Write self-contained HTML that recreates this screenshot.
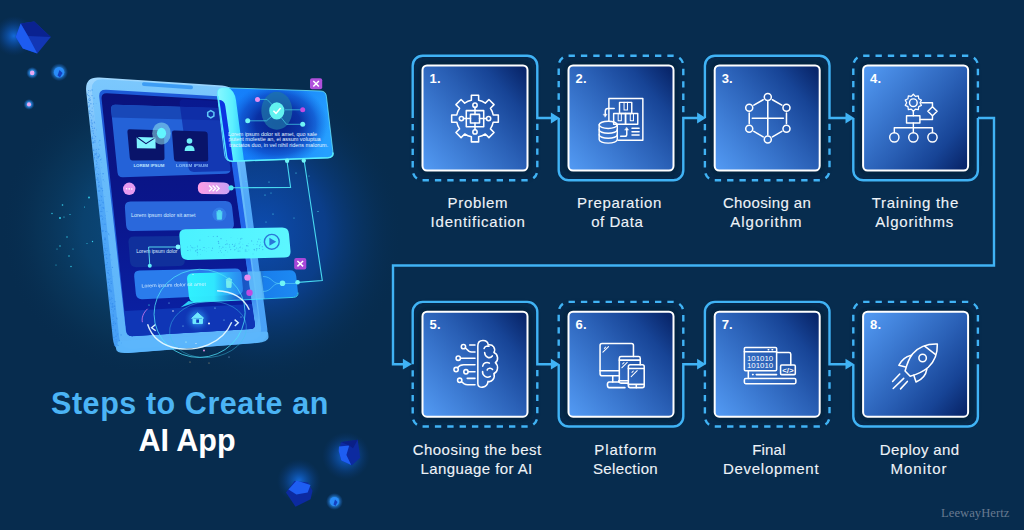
<!DOCTYPE html>
<html lang="en">
<head>
<meta charset="utf-8">
<title>Steps to Create an AI App</title>
<style>
html,body{margin:0;padding:0;}
body{width:1024px;height:530px;overflow:hidden;background:#072c4e;font-family:"Liberation Sans",sans-serif;position:relative;}
#stage{position:absolute;left:0;top:0;width:1024px;height:530px;overflow:hidden;background:#072c4e;}
svg{position:absolute;left:0;top:0;}
.title{position:absolute;font-weight:bold;font-size:30.5px;line-height:36px;white-space:nowrap;margin:0;}
.t1{left:51px;top:384.7px;color:#4bb4f5;letter-spacing:0.56px;}
.t2{left:138.5px;top:421.6px;color:#ffffff;letter-spacing:0px;}
.num{position:absolute;color:#fff;font-weight:bold;font-size:13px;line-height:16px;letter-spacing:0.2px;}
.lbl{position:absolute;color:#eef3f8;font-size:15px;line-height:19px;white-space:nowrap;-webkit-text-stroke:0.12px #eef3f8;}
.brand{position:absolute;left:941px;top:505.5px;font-family:"Liberation Serif",serif;font-size:12.6px;line-height:15px;color:#687a90;letter-spacing:0.05px;white-space:nowrap;}
</style>
</head>
<body>
<div id="stage">
<svg id="illus" width="520" height="530" viewBox="0 0 520 530">
<defs>
<radialGradient id="bgglow" cx="262" cy="232" r="142" gradientUnits="userSpaceOnUse" gradientTransform="translate(262 232) scale(1 1.08) translate(-262 -232)"><stop offset="0" stop-color="#0d4cb0" stop-opacity="1"/><stop offset="0.45" stop-color="#0c439a" stop-opacity="0.78"/><stop offset="0.75" stop-color="#093a74" stop-opacity="0.36"/><stop offset="1" stop-color="#072c4e" stop-opacity="0"/></radialGradient>
<radialGradient id="bgglow2" cx="150" cy="228" r="150" gradientUnits="userSpaceOnUse"><stop offset="0" stop-color="#0c4e88" stop-opacity="0.95"/><stop offset="0.45" stop-color="#0b4878" stop-opacity="0.75"/><stop offset="0.75" stop-color="#0a3c62" stop-opacity="0.4"/><stop offset="1" stop-color="#072c4e" stop-opacity="0"/></radialGradient>
<radialGradient id="glowb" cx="0.5" cy="0.5" r="0.5"><stop offset="0" stop-color="#1470e8" stop-opacity="0.9"/><stop offset="0.5" stop-color="#0e58c0" stop-opacity="0.45"/><stop offset="1" stop-color="#0a3a80" stop-opacity="0"/></radialGradient>
<radialGradient id="glowc" cx="0.5" cy="0.5" r="0.5"><stop offset="0" stop-color="#38b8ff" stop-opacity="1"/><stop offset="0.55" stop-color="#2a90f0" stop-opacity="0.7"/><stop offset="1" stop-color="#1a60c0" stop-opacity="0"/></radialGradient>
<linearGradient id="body" x1="0" y1="78" x2="0" y2="350" gradientUnits="userSpaceOnUse"><stop offset="0" stop-color="#7cc8fd"/><stop offset="0.3" stop-color="#68bcfb"/><stop offset="1" stop-color="#5cb4fa"/></linearGradient>
<linearGradient id="side" x1="0" y1="78" x2="0" y2="350" gradientUnits="userSpaceOnUse"><stop offset="0" stop-color="#a0d8fe"/><stop offset="0.2" stop-color="#72befb"/><stop offset="0.45" stop-color="#50a8f8"/><stop offset="1" stop-color="#48a0f6"/></linearGradient>
<linearGradient id="screen" x1="0" y1="95" x2="0" y2="335" gradientUnits="userSpaceOnUse"><stop offset="0" stop-color="#0a127c"/><stop offset="0.5" stop-color="#0a168c"/><stop offset="1" stop-color="#0a22a6"/></linearGradient>
<linearGradient id="glass" x1="216" y1="90" x2="334" y2="120" gradientUnits="userSpaceOnUse"><stop offset="0" stop-color="#1682fc"/><stop offset="0.5" stop-color="#147cf8"/><stop offset="1" stop-color="#26a0ff"/></linearGradient>
<radialGradient id="glassdark" cx="278" cy="124" r="50" gradientUnits="userSpaceOnUse" gradientTransform="translate(278 124) scale(1 0.82) translate(-278 -124)"><stop offset="0" stop-color="#061c86" stop-opacity="0.97"/><stop offset="0.45" stop-color="#08289a" stop-opacity="0.9"/><stop offset="0.75" stop-color="#0c40bc" stop-opacity="0.6"/><stop offset="1" stop-color="#1060d8" stop-opacity="0"/></radialGradient>
<linearGradient id="thru" x1="216" y1="0" x2="246" y2="0" gradientUnits="userSpaceOnUse"><stop offset="0" stop-color="#8cf8ff"/><stop offset="0.55" stop-color="#5cf0ff"/><stop offset="1" stop-color="#2cc8ff"/></linearGradient>
<linearGradient id="rbez" x1="0" y1="160" x2="0" y2="320" gradientUnits="userSpaceOnUse"><stop offset="0" stop-color="#2064e8"/><stop offset="0.6" stop-color="#2468ea"/><stop offset="0.85" stop-color="#3c8cf2"/><stop offset="1" stop-color="#58aef8"/></linearGradient>
<linearGradient id="cy1" x1="178" y1="0" x2="291" y2="0" gradientUnits="userSpaceOnUse"><stop offset="0" stop-color="#4af2ff"/><stop offset="1" stop-color="#5cf6ff"/></linearGradient>
<linearGradient id="cy2" x1="186" y1="0" x2="298" y2="0" gradientUnits="userSpaceOnUse"><stop offset="0" stop-color="#30f4ff" stop-opacity="0.98"/><stop offset="0.25" stop-color="#30eaff" stop-opacity="0.97"/><stop offset="0.36" stop-color="#2cc4fc" stop-opacity="0.75"/><stop offset="0.5" stop-color="#2a98f4" stop-opacity="0.45"/><stop offset="0.66" stop-color="#2a90f2" stop-opacity="0.6"/><stop offset="0.7" stop-color="#1a84f4" stop-opacity="0.92"/><stop offset="1" stop-color="#1e8ef8" stop-opacity="0.95"/></linearGradient>
<linearGradient id="pill" x1="0" y1="0" x2="1" y2="0"><stop offset="0" stop-color="#ff9ee6"/><stop offset="1" stop-color="#c9a0f4"/></linearGradient>
<filter id="b1" x="-50%" y="-50%" width="200%" height="200%"><feGaussianBlur stdDeviation="1"/></filter>
<filter id="b2" x="-50%" y="-50%" width="200%" height="200%"><feGaussianBlur stdDeviation="2.2"/></filter>
<filter id="b05" x="-50%" y="-50%" width="200%" height="200%"><feGaussianBlur stdDeviation="0.5"/></filter>
</defs>
<rect x="0" y="0" width="520" height="530" fill="url(#bgglow2)"/><rect x="0" y="0" width="520" height="530" fill="url(#bgglow)"/>
<circle cx="14" cy="36" r="20" fill="url(#glowb)"/>
<path d="M15.6,37 L20.7,23.5 L34.2,21.4 L50.8,37 L37.3,53.6 L22.8,48.4 Z" fill="#1236b4"/>
<path d="M20.7,23.5 L34.2,21.4 L50.8,37 L28,36 Z" fill="#0a2290"/>
<path d="M15.6,37 L20.7,23.5 L28,36 L37.3,53.6 L22.8,48.4 Z" fill="#1d5cf0"/>
<circle cx="32.2" cy="72.9" r="6" fill="url(#glowc)"/><circle cx="32.2" cy="72.9" r="2.3" fill="#e9a8f2"/>
<circle cx="59.1" cy="72.2" r="9" fill="url(#glowc)"/><circle cx="59.1" cy="72.2" r="5.2" fill="#2a8cf8"/><path d="M59.5,70 L62.5,73 L60,77.5 L57.5,75.5 Z" fill="#1440c0"/>
<circle cx="29" cy="104.4" r="5.5" fill="url(#glowc)"/><circle cx="29" cy="104.4" r="2.1" fill="#e9a8f2"/>
<circle cx="346" cy="456" r="24" fill="url(#glowb)"/>
<path d="M340.8,442.6 L357.7,439.8 L360.2,457.7 L352,465.3 L341.3,460.6 L338.9,451.1 Z" fill="#0c2aa0"/>
<path d="M339,446.5 L349.2,445.5 L346.4,455 L351.2,465 L341.3,460.6 L338.7,451 Z" fill="#1e5ef2"/>
<path d="M340.8,442 L357.7,439.8 L353,448.3 L349.2,445.5 Z" fill="#0a1f86"/>
<circle cx="299" cy="481" r="22" fill="url(#glowb)"/>
<path d="M286,492.6 L294.5,481 L308,482.5 L312.5,490.8 L310.6,499.2 L295.5,506.8 Z" fill="#0c2aa0"/>
<path d="M288.5,489.5 L296.5,480.4 L310.5,485 L307.7,492.6 L296.4,494.5 Z" fill="#1e5ef2"/>
<circle cx="334.5" cy="501.5" r="8.5" fill="url(#glowc)"/><circle cx="334.5" cy="501.5" r="4.6" fill="#2a8cf8"/><path d="M335,499.5 L337.5,502 L335.5,506 L333.5,504.5 Z" fill="#1440c0"/>
<path d="M86.2,91.5 Q84.6,76.6 99.6,77.6 L222.0,85.6 Q235.0,86.4 236.7,99.3 L267.2,328.1 Q269.0,342.0 255.0,343.1 L129.5,352.8 Q114.5,354.0 112.9,339.1 Z" fill="url(#side)"/>
<path d="M91.9,91.3 Q90.5,78.4 103.5,79.3 L217.5,86.8 Q229.5,87.6 231.1,99.5 L260.9,327.1 Q262.5,339.0 250.5,339.9 L133.5,348.5 Q120.5,349.5 119.1,336.6 Z" fill="url(#body)"/>
<path d="M117.5,342.9 Q118.0,341.0 120.0,340.9 L266.0,331.6 Q268.0,331.5 268.2,333.5 L268.5,336.8 Q269.0,342.0 257.0,342.9 L128.5,352.9 Q114.5,354.0 116.2,347.5 Z" fill="#5cb6fc" opacity="0.95"/>
<path d="M142.0,84.1 Q142.0,82.2 144.0,82.3 L191.0,85.5 Q193.0,85.6 193.0,87.5 L193.0,87.5 Q193.0,89.4 191.0,89.3 L144.0,86.1 Q142.0,86.0 142.0,84.1 Z" fill="#3d9cf4"/>
<path d="M99.3,97.2 Q98.4,89.3 106.4,89.8 L218.0,96.3 Q224.0,96.6 224.8,102.5 L254.8,323.8 Q255.5,328.8 250.5,329.1 L132.6,336.2 Q126.6,336.6 125.9,330.6 Z" fill="#1d5ad8"/>
<path d="M101.6,99.0 Q101.0,93.0 107.0,93.3 L218.5,99.7 Q223.5,100.0 224.2,105.0 L254.8,323.8 Q255.5,328.8 250.5,329.1 L133.0,336.1 Q127.0,336.5 126.4,330.5 Z" fill="url(#screen)"/>
<path d="M124.6,312.0 Q124.5,311.0 125.5,310.9 L251.3,304.1 Q252.3,304.0 252.4,305.0 L254.9,323.8 Q255.5,328.8 250.5,329.1 L133.0,336.1 Q127.0,336.5 126.4,330.5 Z" fill="#1038b8" opacity="0.9"/>
<path d="M231.2,160.0 L236.6,160.0 L258.6,318.0 L256.5,326.0 L254.6,320.0 Z" fill="url(#rbez)"/>
<path d="M111.1,109.5 Q110.6,104.5 115.6,104.7 L217.5,108.1 Q222.5,108.3 223.1,113.3 L230.4,168.5 Q231.0,173.5 226.0,173.7 L123.0,177.3 Q118.0,177.5 117.5,172.5 Z" fill="#2462d8"/>
<path d="M111.2,109.5 Q110.6,104.5 115.6,104.7 L217.5,108.1 Q222.5,108.3 223.2,113.3 L224.1,120.0 Q224.2,120.5 223.7,120.5 L112.7,117.5 Q112.2,117.5 112.1,117.0 Z" fill="#1848b8"/>
<path d="M179.7,104.0 Q179.0,99.0 184.0,99.2 L220.6,100.9 Q223.6,101.0 224.0,104.0 L232.1,168.0 Q232.5,171.0 229.5,171.1 L194.0,171.9 Q189.0,172.0 188.3,167.0 Z" fill="#0a1e9c" opacity="0.62"/>
<path d="M127.4,131.7 Q127.2,129.2 129.7,129.3 L161.5,130.3 Q164.0,130.4 164.1,132.9 L164.5,157.7 Q164.6,160.2 162.1,160.2 L132.5,160.5 Q130.0,160.5 129.8,158.0 Z" fill="#09146a"/>
<path d="M172.0,132.8 Q171.8,130.3 174.3,130.4 L205.1,131.4 Q207.6,131.5 207.7,134.0 L208.2,159.0 Q208.3,161.5 205.8,161.5 L176.7,161.4 Q174.2,161.4 174.0,158.9 Z" fill="#09146a"/>
<path d="M136.6,137 L155.4,137.6 L155.7,148.6 L136.9,148.2 Z" fill="#7ff2ff"/>
<path d="M136.6,137 L146,143.6 L155.4,137.6" fill="none" stroke="#09146a" stroke-width="1.1"/>
<circle cx="189.5" cy="141" r="2.8" fill="#6ff0f8"/><path d="M184.6,151 Q184.6,145.6 189.6,145.6 Q194.6,145.6 194.6,151 Z" fill="#6ff0f8"/>
<ellipse cx="161.5" cy="133.4" rx="9.3" ry="11" fill="#8fe4ee" opacity="0.55"/><ellipse cx="161.5" cy="133.2" rx="4.6" ry="5.4" fill="#62f6ff"/>
<path d="M210.8,110.6 L213.9,112.4 L213.9,116 L210.8,117.8 L207.7,116 L207.7,112.4 Z" fill="none" stroke="#5fc8f8" stroke-width="1.5"/>
<text x="133.4" y="167.3" font-family="'Liberation Sans',sans-serif" font-weight="bold" font-size="4.1" fill="#bfe6ff" textLength="31" lengthAdjust="spacingAndGlyphs">LOREM IPSUM</text>
<text x="176" y="167.2" font-family="'Liberation Sans',sans-serif" font-weight="bold" font-size="4.1" fill="#9fd0ff" opacity="0.85" textLength="32" lengthAdjust="spacingAndGlyphs">LOREM IPSUM</text>
<circle cx="129.2" cy="188.8" r="6.2" fill="#e79af0"/>
<circle cx="126.6" cy="188.8" r="0.8" fill="#fff"/><circle cx="129.2" cy="188.9" r="0.8" fill="#fff"/><circle cx="131.8" cy="189" r="0.8" fill="#fff"/>
<path d="M197.8,188.0 Q197.7,182.0 203.7,182.1 L223.8,182.5 Q229.8,182.6 229.9,188.5 L229.9,188.5 Q230.0,194.4 224.0,194.3 L203.9,194.1 Q197.9,194.0 197.8,188.0 Z" fill="url(#pill)"/>
<path d="M209,185.6 L212,188.4 L209,191.2 M212.6,185.6 L215.6,188.4 L212.6,191.2 M216.2,185.6 L219.2,188.4 L216.2,191.2" fill="none" stroke="#fff" stroke-width="1.3"/>
<path d="M124.9,207.6 Q124.5,201.6 130.5,201.6 L225.5,201.0 Q231.5,201.0 232.1,207.0 L233.9,223.5 Q234.5,229.5 228.5,229.6 L132.5,231.1 Q126.5,231.2 126.1,225.2 Z" fill="#2a68dc"/>
<text x="131" y="217.4" font-family="'Liberation Sans',sans-serif" font-size="4.6" fill="#d8ecff" textLength="64.5" lengthAdjust="spacingAndGlyphs">Lorem ipsum dolor sit amet</text>
<circle cx="219.4" cy="214.6" r="7" fill="#3a8cf0" opacity="0.55"/>
<path d="M216.3,211.8 H222.5 M218.2,211.8 V210.4 H220.6 V211.8 M216.9,212.6 L217.3,219.2 H221.5 L221.9,212.6 Z" fill="#52d8f4" stroke="#52d8f4" stroke-width="0.9" stroke-linejoin="round"/>
<path d="M128.5,242.5 Q128.0,236.5 134.0,236.4 L178.0,236.1 Q184.0,236.0 184.2,242.0 L184.8,260.0 Q185.0,266.0 179.0,266.1 L136.5,267.2 Q130.5,267.3 130.0,261.3 Z" fill="#10309c"/>
<text x="136.3" y="253.4" font-family="'Liberation Sans',sans-serif" font-size="4.6" fill="#d8ecff" textLength="41" lengthAdjust="spacingAndGlyphs">Lorem ipsum dolor</text>
<path d="M177.8,247 H148.6 L149.8,265.6" fill="none" stroke="#5feaf8" stroke-width="0.9"/><circle cx="149.8" cy="265.8" r="2" fill="#5feaf8"/>
<path d="M134.2,276.6 Q133.6,270.6 139.6,270.5 L235.0,268.5 Q241.0,268.4 241.6,274.4 L242.9,288.5 Q243.5,294.5 237.5,294.8 L142.4,299.3 Q136.4,299.6 135.8,293.6 Z" fill="#2a7cec"/>
<path d="M233.0,96.0 L239.5,94.0 L268.5,333.0 L258.0,329.0 Z" fill="#7cc2fa" opacity="0.0"/>
<path d="M287,161 L290.6,187.4 L231.5,187.8" fill="none" stroke="#48d8f0" stroke-width="1.1"/>
<path d="M304.2,161 L322.3,280.6 L298,282.4" fill="none" stroke="#48d8f0" stroke-width="1.1"/>
<circle cx="231" cy="187.8" r="2.6" fill="#4fe6f2"/>
<path d="M187.1,279.5 Q186.5,273.5 192.5,273.3 L289.5,270.2 Q295.5,270.0 296.2,276.0 L297.8,291.0 Q298.5,297.0 292.5,297.3 L195.5,302.2 Q189.5,302.5 188.9,296.5 Z" fill="url(#cy2)"/>
<path d="M188.5,301 L180.5,307.5 L196,302.2 Z" fill="#2fe0ff" opacity="0.9"/>
<path d="M193,302.4 L293.5,297.4 Q298.3,297 298,292.5" fill="none" stroke="#3fe8ff" stroke-width="0.9" opacity="0.9"/>
<path d="M247.6,271.6 L260.6,271.2 L264.6,298.8 L251.6,299.4 Z" fill="#7fd8ff" opacity="0.55"/>
<path d="M225.8,279.6 H232 M227.7,279.6 V278.2 H230.1 V279.6 M226.4,280.4 L226.8,287.4 H231 L231.4,280.4 Z" fill="#7ff4ee" stroke="#7ff4ee" stroke-width="0.9" stroke-linejoin="round" opacity="0.9"/>
<path d="M263,276.5 C272,276.5 272,283.5 279,283.5 M263,291.5 C272,291.5 272,283.5 279,283.5 M279,283.5 H297" fill="none" stroke="#5fd8f8" stroke-width="0.7" opacity="0.8"/>
<circle cx="282.5" cy="283.3" r="2.8" fill="#6ff4f6"/><circle cx="297.6" cy="282.2" r="2.3" fill="#6ff4f6"/>
<circle cx="247.5" cy="277.6" r="3.2" fill="#e88cf0"/><circle cx="249.5" cy="292.8" r="3.2" fill="#c04ce0"/>
<text x="141.5" y="287.4" font-family="'Liberation Sans',sans-serif" font-size="4.6" fill="#e6f6ff" opacity="0.9" textLength="64.5" lengthAdjust="spacingAndGlyphs" transform="rotate(-1.6 141.5 287.4)">Lorem ipsum dolor sit amet</text>
<path d="M179.4,235.9 Q178.8,229.4 185.3,229.3 L282.0,227.6 Q288.5,227.5 289.0,234.0 L290.5,251.0 Q291.0,257.5 284.5,257.6 L188.0,259.9 Q181.5,260.0 180.9,253.5 Z" fill="url(#cy1)"/>
<circle cx="178" cy="247" r="2.4" fill="#7ff8ff"/>
<circle cx="271.8" cy="241.8" r="7.4" fill="none" stroke="#2a78d8" stroke-width="1.4"/><path d="M269.4,237.8 L276.2,241.8 L269.4,245.8 Z" fill="#2a78d8"/>
<g fill="#2a8ce0" opacity="0.55"><circle cx="211.3" cy="250.6" r="0.33"/><circle cx="227.8" cy="251.9" r="0.45"/><circle cx="190.5" cy="245.8" r="0.47"/><circle cx="191.4" cy="246.9" r="0.34"/><circle cx="219.1" cy="248.0" r="0.39"/><circle cx="234.9" cy="245.1" r="0.68"/><circle cx="231.0" cy="237.8" r="0.32"/><circle cx="253.0" cy="253.9" r="0.42"/><circle cx="197.3" cy="249.7" r="0.63"/><circle cx="200.1" cy="249.4" r="0.53"/><circle cx="235.8" cy="243.3" r="0.33"/><circle cx="190.6" cy="250.8" r="0.38"/><circle cx="239.1" cy="243.7" r="0.53"/><circle cx="221.3" cy="248.6" r="0.42"/><circle cx="248.0" cy="246.0" r="0.53"/><circle cx="227.0" cy="244.0" r="0.65"/><circle cx="242.9" cy="244.2" r="0.35"/><circle cx="245.1" cy="249.8" r="0.32"/><circle cx="238.1" cy="251.0" r="0.61"/><circle cx="230.7" cy="249.6" r="0.58"/><circle cx="232.4" cy="244.4" r="0.53"/><circle cx="221.6" cy="252.4" r="0.49"/><circle cx="237.8" cy="238.5" r="0.32"/><circle cx="240.7" cy="239.0" r="0.63"/><circle cx="208.2" cy="236.4" r="0.45"/><circle cx="238.2" cy="251.6" r="0.37"/><circle cx="195.1" cy="247.7" r="0.32"/><circle cx="245.9" cy="249.2" r="0.46"/><circle cx="254.0" cy="249.3" r="0.33"/><circle cx="221.0" cy="238.7" r="0.63"/><circle cx="253.4" cy="244.3" r="0.41"/><circle cx="218.4" cy="241.5" r="0.68"/><circle cx="197.8" cy="253.8" r="0.37"/><circle cx="204.1" cy="247.5" r="0.54"/><circle cx="206.5" cy="251.8" r="0.30"/><circle cx="218.7" cy="243.3" r="0.68"/><circle cx="239.9" cy="251.0" r="0.51"/><circle cx="234.2" cy="246.4" r="0.66"/><circle cx="246.8" cy="245.7" r="0.65"/><circle cx="248.2" cy="243.7" r="0.34"/><circle cx="235.5" cy="249.7" r="0.32"/><circle cx="191.3" cy="247.6" r="0.44"/><circle cx="190.1" cy="249.4" r="0.30"/><circle cx="197.8" cy="250.2" r="0.31"/><circle cx="254.2" cy="249.4" r="0.55"/><circle cx="197.6" cy="246.9" r="0.45"/><circle cx="195.6" cy="250.9" r="0.64"/><circle cx="263.5" cy="242.3" r="0.33"/><circle cx="194.0" cy="248.0" r="0.44"/><circle cx="206.7" cy="248.2" r="0.31"/><circle cx="260.2" cy="244.8" r="0.51"/><circle cx="197.4" cy="246.1" r="0.51"/><circle cx="262.3" cy="246.7" r="0.65"/><circle cx="240.3" cy="246.7" r="0.37"/><circle cx="246.2" cy="251.0" r="0.51"/><circle cx="246.8" cy="245.6" r="0.62"/><circle cx="262.8" cy="249.6" r="0.64"/><circle cx="248.9" cy="249.9" r="0.39"/><circle cx="226.4" cy="240.7" r="0.44"/><circle cx="188.3" cy="250.3" r="0.40"/><circle cx="240.0" cy="247.6" r="0.68"/><circle cx="260.5" cy="242.2" r="0.45"/><circle cx="203.2" cy="247.4" r="0.38"/><circle cx="234.7" cy="249.8" r="0.66"/><circle cx="251.6" cy="240.9" r="0.62"/><circle cx="192.6" cy="247.8" r="0.56"/><circle cx="257.0" cy="248.4" r="0.49"/><circle cx="199.9" cy="240.1" r="0.62"/><circle cx="211.9" cy="250.5" r="0.46"/><circle cx="217.3" cy="236.4" r="0.68"/><circle cx="242.5" cy="248.1" r="0.36"/><circle cx="256.6" cy="248.9" r="0.62"/><circle cx="197.4" cy="252.4" r="0.56"/><circle cx="213.3" cy="236.6" r="0.52"/><circle cx="236.7" cy="248.0" r="0.51"/><circle cx="258.8" cy="239.2" r="0.63"/><circle cx="202.5" cy="250.4" r="0.40"/><circle cx="208.9" cy="247.3" r="0.40"/><circle cx="218.7" cy="252.6" r="0.35"/><circle cx="257.0" cy="244.2" r="0.53"/><circle cx="256.5" cy="250.7" r="0.47"/><circle cx="257.6" cy="241.8" r="0.51"/><circle cx="187.5" cy="246.9" r="0.48"/><circle cx="200.3" cy="254.5" r="0.37"/><circle cx="222.9" cy="247.2" r="0.59"/><circle cx="229.4" cy="244.7" r="0.52"/><circle cx="247.2" cy="251.5" r="0.34"/><circle cx="229.7" cy="247.0" r="0.61"/><circle cx="225.6" cy="250.4" r="0.52"/><circle cx="245.3" cy="250.9" r="0.55"/><circle cx="225.4" cy="244.6" r="0.50"/><circle cx="240.0" cy="242.0" r="0.49"/><circle cx="259.4" cy="248.5" r="0.58"/><circle cx="254.4" cy="250.0" r="0.52"/><circle cx="259.6" cy="245.8" r="0.64"/><circle cx="196.7" cy="250.3" r="0.33"/><circle cx="204.8" cy="250.1" r="0.33"/><circle cx="238.2" cy="248.9" r="0.36"/><circle cx="241.9" cy="238.2" r="0.56"/><circle cx="197.2" cy="255.1" r="0.39"/><circle cx="260.3" cy="239.6" r="0.46"/><circle cx="224.0" cy="254.9" r="0.36"/><circle cx="219.7" cy="246.5" r="0.51"/><circle cx="212.5" cy="248.2" r="0.59"/><circle cx="187.5" cy="250.5" r="0.52"/><circle cx="220.4" cy="250.7" r="0.55"/><circle cx="226.0" cy="247.4" r="0.33"/></g>
<path d="M294.2,260.0 Q294.2,258.0 296.2,258.0 L304.3,258.0 Q306.3,258.0 306.3,260.0 L306.3,267.4 Q306.3,269.4 304.3,269.4 L296.2,269.4 Q294.2,269.4 294.2,267.4 Z" fill="#a848d8"/>
<path d="M297.4,261 L303.1,266.4 M303.1,261 L297.4,266.4" stroke="#fff" stroke-width="1.5" fill="none"/>
<path d="M217.4,94.5 Q216.6,87.5 223.6,87.7 L320.8,91.0 Q325.8,91.2 326.4,96.2 L332.9,151.6 Q333.6,157.6 327.6,157.8 L232.4,161.3 Q225.4,161.6 224.6,154.6 Z" fill="url(#glass)"/>
<path d="M217.4,94.5 Q216.6,87.5 223.6,87.7 L320.8,91.0 Q325.8,91.2 326.4,96.2 L332.9,151.6 Q333.6,157.6 327.6,157.8 L232.4,161.3 Q225.4,161.6 224.6,154.6 Z" fill="url(#glassdark)"/>
<clipPath id="gclip"><path d="M217.4,94.5 Q216.6,87.5 223.6,87.7 L320.8,91.0 Q325.8,91.2 326.4,96.2 L332.9,151.6 Q333.6,157.6 327.6,157.8 L232.4,161.3 Q225.4,161.6 224.6,154.6 Z"/></clipPath>
<g clip-path="url(#gclip)">
<path d="M86.2,91.5 Q84.6,76.6 99.6,77.6 L220.2,85.5 Q234.2,86.4 236.0,100.3 L265.9,327.1 Q267.7,341.0 253.8,342.2 L129.4,352.7 Q114.5,354.0 112.9,339.1 Z" fill="url(#thru)"/>
<path d="M101.6,99.0 Q101.0,93.0 107.0,93.3 L218.5,99.7 Q224.5,100.0 225.3,105.9 L255.8,322.0 Q256.5,327.0 251.5,327.4 L133.0,336.1 Q127.0,336.5 126.4,330.5 Z" fill="#0c34e2"/>
</g>
<path d="M217.4,94.5 Q216.6,87.5 223.6,87.7 L320.8,91.0 Q325.8,91.2 326.4,96.2 L332.9,151.6 Q333.6,157.6 327.6,157.8 L232.4,161.3 Q225.4,161.6 224.6,154.6 Z" fill="none" stroke="#6ff0ff" stroke-width="0.9" opacity="0.8"/>
<path d="M218,96 L226.6,156.5 Q227.4,161.4 232.5,161.2 L328,157.8 Q333.6,157.4 333,152.5" fill="none" stroke="#58f0ff" stroke-width="1.5" opacity="0.95"/>
<ellipse cx="276.8" cy="110.8" rx="15.5" ry="19" fill="#1f74a8" opacity="0.75"/>
<path d="M257.5,99.4 H267 L272,104.5 M302.7,109.8 H285 M247.7,120.8 H266.5 L271.5,116.5 M302.7,124.3 H286.5 L281.5,118" fill="none" stroke="#3fc0e0" stroke-width="0.8"/>
<ellipse cx="276.8" cy="110.8" rx="7.6" ry="8.6" fill="#62f2f0"/>
<path d="M273.4,110.8 L276,113.4 L280.6,108" fill="none" stroke="#fff" stroke-width="1.5"/>
<circle cx="257.5" cy="99.4" r="2.5" fill="#e88cf0"/><circle cx="302.7" cy="109.8" r="2.5" fill="#c04ce0"/><circle cx="247.7" cy="120.8" r="2.5" fill="#6ff4f6"/><circle cx="302.7" cy="124.3" r="2.5" fill="#6ff4f6"/>
<text x="228" y="135.6" font-family="'Liberation Sans',sans-serif" font-size="4.6" fill="#e4f4ff" textLength="89" lengthAdjust="spacingAndGlyphs">Lorem ipsum dolor sit amet, quo sale</text>
<text x="228.6" y="141.2" font-family="'Liberation Sans',sans-serif" font-size="4.6" fill="#e4f4ff" textLength="92" lengthAdjust="spacingAndGlyphs">putent molestie an, ei assum voluptua</text>
<text x="229.2" y="146.6" font-family="'Liberation Sans',sans-serif" font-size="4.6" fill="#e4f4ff" textLength="99" lengthAdjust="spacingAndGlyphs">tractatos duo, in vel nihil ridens malorum.</text>
<circle cx="287.1" cy="160.8" r="2.2" fill="#6ff4f6"/><circle cx="303.8" cy="160.6" r="2.2" fill="#6ff4f6"/>
<path d="M310.0,80.3 Q310.0,78.3 312.0,78.3 L320.2,78.3 Q322.2,78.3 322.2,80.3 L322.2,87.2 Q322.2,89.2 320.2,89.2 L312.0,89.2 Q310.0,89.2 310.0,87.2 Z" fill="#b050dc"/>
<path d="M313.3,81 L318.9,86.5 M318.9,81 L313.3,86.5" stroke="#fff" stroke-width="1.5" fill="none"/>
<circle cx="197.5" cy="319" r="13" fill="url(#glowc)" opacity="0.6"/>
<path d="M191.5,318.5 L197.6,312.8 L203.8,318.3 M193,317.8 V323.6 H202.4 V317.4 Z" fill="#6fe8ff" stroke="#6fe8ff" stroke-width="1" stroke-linejoin="round"/><rect x="196.2" y="319.4" width="2.8" height="3.4" fill="#1040c0"/>
<path d="M155.5,324.5 L151.6,327.8 L155.7,330.8" fill="none" stroke="#d8f0ff" stroke-width="1.4"/>
<path d="M234.6,319.6 L238.3,322.8 L234.8,326" fill="none" stroke="#d8f0ff" stroke-width="1.4"/>
<ellipse cx="199.5" cy="313.5" rx="45.6" ry="44" fill="none" stroke="#4fe0f8" stroke-width="0.9" opacity="0.8" transform="rotate(-12 199 313)"/>
<ellipse cx="208" cy="329.5" rx="38.5" ry="28" fill="none" stroke="#3fc8ec" stroke-width="0.7" opacity="0.6" transform="rotate(-6 208 329.5)"/>
<path d="M147.6,324.3 C152,338 163,346 178,348.5 C196,351 222,345 231.7,322.2" fill="none" stroke="#e8fbff" stroke-width="1.4" opacity="0.92"/>
<path d="M217.1,290.7 C232,291 244,298 249.3,309.8" fill="none" stroke="#e8fbff" stroke-width="1.4" opacity="0.92"/>
<path d="M147.6,308.8 C143,313 141.5,318 142.4,322.2" fill="none" stroke="#e080f0" stroke-width="0.9" opacity="0.85"/>
<g><circle cx="173" cy="311" r="0.7" fill="#fff"/><circle cx="209" cy="323.5" r="1" fill="#fff"/><circle cx="186" cy="342" r="0.6" fill="#cfe"/><circle cx="204" cy="350.5" r="0.9" fill="#f49af0"/><circle cx="196" cy="343.5" r="0.5" fill="#fff"/><circle cx="215" cy="308" r="0.6" fill="#9ef"/><circle cx="224" cy="320" r="0.5" fill="#9ef"/><circle cx="183" cy="326" r="0.5" fill="#9ef"/><circle cx="169" cy="303" r="0.5" fill="#9ef"/><circle cx="241" cy="317" r="0.5" fill="#9ef"/><circle cx="149" cy="305" r="0.6" fill="#5fe"/><circle cx="190" cy="362" r="0.5" fill="#cb8"/><circle cx="209" cy="363" r="0.5" fill="#cb8"/><circle cx="229" cy="357" r="0.5" fill="#9cf"/><circle cx="193" cy="274.5" r="0.5" fill="#fff"/><circle cx="246" cy="181.5" r="0.6" fill="#4fd8f0"/><circle cx="269" cy="182" r="0.6" fill="#4fd8f0"/><circle cx="296" cy="173" r="0.6" fill="#4fd8f0"/><circle cx="265" cy="195" r="0.6" fill="#4fd8f0"/><circle cx="273" cy="214" r="0.6" fill="#4fd8f0"/><circle cx="266" cy="222" r="0.5" fill="#4fd8f0"/><circle cx="294" cy="218" r="0.5" fill="#4fd8f0"/><circle cx="318" cy="211.5" r="0.6" fill="#4fd8f0"/><circle cx="309" cy="176" r="0.5" fill="#4fd8f0"/><circle cx="271" cy="193" r="0.5" fill="#4fd8f0"/><circle cx="62.5" cy="205" r="0.8" fill="#35cdea"/><circle cx="60" cy="218" r="1" fill="#35cdea"/><circle cx="52" cy="213.5" r="0.7" fill="#35cdea"/><circle cx="70" cy="214.5" r="0.6" fill="#35cdea"/><circle cx="64" cy="217" r="0.6" fill="#35cdea"/><circle cx="67" cy="237" r="0.7" fill="#35cdea"/><circle cx="60" cy="246" r="0.7" fill="#35cdea"/><circle cx="69" cy="256" r="0.7" fill="#35cdea"/><circle cx="71" cy="266.5" r="0.7" fill="#35cdea"/><circle cx="92.5" cy="241.5" r="0.7" fill="#35cdea"/><circle cx="89" cy="197.5" r="0.9" fill="#35cdea"/><circle cx="84.5" cy="207" r="0.5" fill="#35cdea"/><circle cx="57" cy="249" r="0.5" fill="#35cdea"/><circle cx="56" cy="265" r="0.5" fill="#35cdea"/><circle cx="73" cy="249" r="0.5" fill="#35cdea"/><circle cx="87" cy="243.5" r="0.5" fill="#35cdea"/></g>
<g fill="#2f86ea" opacity="0.6"><circle cx="115.8" cy="342.2" r="0.35"/><circle cx="101.9" cy="158.0" r="0.32"/><circle cx="108.4" cy="289.4" r="0.49"/><circle cx="113.5" cy="323.3" r="0.67"/><circle cx="97.9" cy="156.2" r="0.56"/><circle cx="111.5" cy="269.3" r="0.34"/><circle cx="89.5" cy="104.7" r="0.33"/><circle cx="115.6" cy="330.2" r="0.59"/><circle cx="114.0" cy="295.2" r="0.33"/><circle cx="113.5" cy="310.9" r="0.50"/><circle cx="102.6" cy="176.8" r="0.42"/><circle cx="92.6" cy="123.1" r="0.54"/><circle cx="94.7" cy="151.0" r="0.32"/><circle cx="93.4" cy="141.7" r="0.44"/><circle cx="95.3" cy="168.1" r="0.53"/><circle cx="94.1" cy="135.5" r="0.46"/><circle cx="87.2" cy="94.6" r="0.63"/><circle cx="102.5" cy="231.1" r="0.39"/><circle cx="101.1" cy="211.5" r="0.67"/><circle cx="99.2" cy="200.6" r="0.52"/><circle cx="112.6" cy="303.7" r="0.61"/><circle cx="116.1" cy="341.5" r="0.45"/><circle cx="110.9" cy="303.1" r="0.48"/><circle cx="100.4" cy="179.0" r="0.32"/><circle cx="94.8" cy="123.2" r="0.42"/><circle cx="93.4" cy="131.8" r="0.34"/><circle cx="113.0" cy="305.4" r="0.43"/><circle cx="96.7" cy="152.0" r="0.43"/><circle cx="101.2" cy="207.6" r="0.42"/><circle cx="116.0" cy="336.2" r="0.74"/><circle cx="102.1" cy="230.1" r="0.44"/><circle cx="104.4" cy="181.3" r="0.30"/><circle cx="100.8" cy="187.7" r="0.39"/><circle cx="101.2" cy="219.2" r="0.30"/><circle cx="96.6" cy="157.6" r="0.32"/><circle cx="89.0" cy="95.8" r="0.44"/><circle cx="96.3" cy="149.6" r="0.64"/><circle cx="106.8" cy="258.3" r="0.62"/><circle cx="113.1" cy="315.0" r="0.74"/><circle cx="92.6" cy="128.3" r="0.63"/><circle cx="110.0" cy="254.7" r="0.70"/><circle cx="105.6" cy="250.6" r="0.63"/><circle cx="111.5" cy="297.9" r="0.53"/><circle cx="112.6" cy="303.7" r="0.66"/><circle cx="115.0" cy="301.6" r="0.61"/><circle cx="109.1" cy="267.5" r="0.40"/><circle cx="89.5" cy="98.0" r="0.35"/><circle cx="111.9" cy="304.0" r="0.55"/><circle cx="107.2" cy="250.7" r="0.52"/><circle cx="90.1" cy="90.8" r="0.66"/><circle cx="111.1" cy="281.6" r="0.60"/><circle cx="88.6" cy="106.9" r="0.63"/><circle cx="95.8" cy="154.6" r="0.63"/><circle cx="93.5" cy="142.5" r="0.63"/><circle cx="116.6" cy="339.8" r="0.52"/><circle cx="105.7" cy="265.0" r="0.65"/><circle cx="104.5" cy="247.9" r="0.37"/><circle cx="94.7" cy="155.0" r="0.63"/><circle cx="95.6" cy="167.9" r="0.33"/><circle cx="94.4" cy="158.8" r="0.60"/><circle cx="107.0" cy="267.2" r="0.53"/><circle cx="101.8" cy="209.0" r="0.51"/><circle cx="91.6" cy="120.3" r="0.74"/><circle cx="113.8" cy="329.7" r="0.31"/><circle cx="102.8" cy="207.5" r="0.50"/><circle cx="101.3" cy="158.8" r="0.39"/><circle cx="113.8" cy="332.1" r="0.36"/><circle cx="105.0" cy="224.2" r="0.73"/><circle cx="91.9" cy="123.9" r="0.70"/><circle cx="109.4" cy="270.1" r="0.40"/><circle cx="112.2" cy="319.8" r="0.30"/><circle cx="100.4" cy="215.9" r="0.50"/><circle cx="96.8" cy="167.3" r="0.44"/><circle cx="112.1" cy="305.1" r="0.30"/><circle cx="108.3" cy="282.2" r="0.72"/><circle cx="107.7" cy="272.5" r="0.71"/><circle cx="96.8" cy="164.2" r="0.75"/><circle cx="105.2" cy="240.8" r="0.46"/><circle cx="98.7" cy="199.6" r="0.35"/><circle cx="110.7" cy="303.7" r="0.43"/><circle cx="112.6" cy="329.5" r="0.53"/><circle cx="94.3" cy="138.6" r="0.47"/><circle cx="117.2" cy="334.8" r="0.58"/><circle cx="115.6" cy="323.8" r="0.72"/><circle cx="102.1" cy="230.6" r="0.63"/><circle cx="100.1" cy="205.4" r="0.64"/><circle cx="104.7" cy="255.0" r="0.72"/><circle cx="91.2" cy="122.6" r="0.51"/><circle cx="97.7" cy="178.0" r="0.74"/><circle cx="98.6" cy="156.6" r="0.60"/><circle cx="97.9" cy="167.0" r="0.38"/><circle cx="92.3" cy="131.4" r="0.39"/><circle cx="113.9" cy="321.9" r="0.71"/><circle cx="114.3" cy="345.1" r="0.50"/><circle cx="91.1" cy="125.7" r="0.45"/><circle cx="90.5" cy="113.3" r="0.41"/><circle cx="99.6" cy="156.1" r="0.64"/><circle cx="100.8" cy="195.7" r="0.49"/><circle cx="103.2" cy="224.2" r="0.33"/><circle cx="96.3" cy="161.0" r="0.74"/><circle cx="94.4" cy="122.2" r="0.69"/><circle cx="92.8" cy="145.3" r="0.42"/><circle cx="96.2" cy="153.6" r="0.73"/><circle cx="112.1" cy="307.3" r="0.69"/><circle cx="92.0" cy="95.6" r="0.70"/><circle cx="100.8" cy="211.2" r="0.56"/><circle cx="92.1" cy="90.0" r="0.67"/><circle cx="114.7" cy="309.0" r="0.74"/><circle cx="94.9" cy="153.6" r="0.54"/><circle cx="106.7" cy="264.6" r="0.72"/><circle cx="109.7" cy="274.8" r="0.51"/><circle cx="106.0" cy="231.2" r="0.32"/><circle cx="109.1" cy="290.3" r="0.59"/><circle cx="101.8" cy="167.8" r="0.36"/><circle cx="96.7" cy="154.5" r="0.35"/><circle cx="92.2" cy="108.0" r="0.54"/><circle cx="104.5" cy="239.2" r="0.57"/><circle cx="88.4" cy="92.7" r="0.44"/><circle cx="103.6" cy="207.9" r="0.70"/><circle cx="101.0" cy="211.7" r="0.41"/><circle cx="98.1" cy="153.2" r="0.44"/><circle cx="88.5" cy="95.6" r="0.52"/><circle cx="107.4" cy="262.7" r="0.60"/><circle cx="113.4" cy="326.8" r="0.40"/><circle cx="89.3" cy="98.7" r="0.61"/><circle cx="94.9" cy="140.7" r="0.66"/><circle cx="109.2" cy="279.2" r="0.74"/><circle cx="95.4" cy="169.8" r="0.67"/><circle cx="94.0" cy="149.1" r="0.43"/><circle cx="118.0" cy="333.7" r="0.52"/><circle cx="92.4" cy="138.0" r="0.60"/><circle cx="116.0" cy="332.9" r="0.37"/><circle cx="99.5" cy="190.7" r="0.36"/><circle cx="96.1" cy="103.3" r="0.33"/><circle cx="102.6" cy="190.7" r="0.63"/><circle cx="118.0" cy="345.4" r="0.72"/><circle cx="98.6" cy="174.3" r="0.64"/><circle cx="94.1" cy="98.2" r="0.60"/><circle cx="99.1" cy="186.9" r="0.38"/><circle cx="88.7" cy="90.7" r="0.43"/><circle cx="97.9" cy="180.0" r="0.73"/><circle cx="92.9" cy="143.1" r="0.46"/><circle cx="110.8" cy="300.3" r="0.32"/><circle cx="102.7" cy="211.2" r="0.47"/><circle cx="113.1" cy="325.4" r="0.70"/><circle cx="90.3" cy="97.8" r="0.48"/><circle cx="109.2" cy="297.8" r="0.32"/><circle cx="89.3" cy="106.0" r="0.71"/><circle cx="93.9" cy="155.8" r="0.45"/><circle cx="100.7" cy="159.7" r="0.73"/><circle cx="104.1" cy="247.9" r="0.44"/><circle cx="99.1" cy="160.6" r="0.30"/><circle cx="111.3" cy="283.4" r="0.72"/><circle cx="89.5" cy="96.2" r="0.41"/><circle cx="107.0" cy="211.6" r="0.47"/><circle cx="95.7" cy="154.3" r="0.49"/><circle cx="102.1" cy="216.3" r="0.66"/><circle cx="108.0" cy="279.1" r="0.67"/><circle cx="110.2" cy="287.8" r="0.44"/><circle cx="98.4" cy="182.6" r="0.65"/><circle cx="90.6" cy="110.2" r="0.41"/><circle cx="93.3" cy="106.6" r="0.32"/><circle cx="105.8" cy="231.5" r="0.70"/><circle cx="121.5" cy="342.9" r="0.42"/><circle cx="92.0" cy="111.5" r="0.62"/><circle cx="101.1" cy="204.4" r="0.41"/><circle cx="101.5" cy="196.7" r="0.64"/><circle cx="113.2" cy="306.8" r="0.60"/><circle cx="91.4" cy="121.0" r="0.56"/><circle cx="99.1" cy="185.5" r="0.63"/><circle cx="92.3" cy="141.0" r="0.37"/><circle cx="113.4" cy="316.3" r="0.56"/><circle cx="103.2" cy="173.5" r="0.53"/><circle cx="98.8" cy="149.2" r="0.66"/><circle cx="106.2" cy="257.3" r="0.51"/><circle cx="109.4" cy="299.7" r="0.68"/><circle cx="114.4" cy="324.1" r="0.35"/><circle cx="92.6" cy="138.5" r="0.74"/><circle cx="105.5" cy="239.3" r="0.69"/><circle cx="100.4" cy="205.0" r="0.42"/><circle cx="109.5" cy="289.1" r="0.57"/><circle cx="104.3" cy="248.7" r="0.40"/><circle cx="98.2" cy="184.4" r="0.41"/><circle cx="104.9" cy="243.5" r="0.59"/><circle cx="95.0" cy="142.1" r="0.61"/><circle cx="92.0" cy="137.4" r="0.44"/><circle cx="93.4" cy="142.1" r="0.33"/><circle cx="93.2" cy="116.0" r="0.48"/><circle cx="102.8" cy="230.8" r="0.37"/><circle cx="106.9" cy="268.0" r="0.48"/><circle cx="97.2" cy="162.5" r="0.44"/><circle cx="109.3" cy="235.0" r="0.46"/><circle cx="104.9" cy="196.6" r="0.46"/><circle cx="99.8" cy="140.5" r="0.63"/><circle cx="98.8" cy="142.1" r="0.49"/><circle cx="109.6" cy="300.0" r="0.48"/><circle cx="112.8" cy="316.0" r="0.31"/><circle cx="102.4" cy="231.2" r="0.59"/><circle cx="115.4" cy="322.9" r="0.47"/><circle cx="102.9" cy="219.1" r="0.37"/><circle cx="101.3" cy="162.5" r="0.35"/><circle cx="101.2" cy="215.6" r="0.66"/><circle cx="113.9" cy="337.5" r="0.72"/><circle cx="115.1" cy="339.7" r="0.52"/><circle cx="90.9" cy="103.7" r="0.71"/><circle cx="105.2" cy="248.8" r="0.67"/><circle cx="91.6" cy="131.0" r="0.48"/><circle cx="112.2" cy="306.7" r="0.67"/><circle cx="92.4" cy="136.8" r="0.53"/><circle cx="100.3" cy="188.2" r="0.36"/><circle cx="94.6" cy="153.2" r="0.32"/><circle cx="108.6" cy="234.0" r="0.64"/><circle cx="88.6" cy="99.8" r="0.57"/><circle cx="103.2" cy="230.8" r="0.58"/><circle cx="98.7" cy="168.4" r="0.49"/><circle cx="106.8" cy="258.7" r="0.50"/><circle cx="103.0" cy="202.2" r="0.52"/><circle cx="93.8" cy="150.2" r="0.64"/><circle cx="110.1" cy="289.7" r="0.51"/><circle cx="90.2" cy="117.4" r="0.36"/><circle cx="101.3" cy="200.2" r="0.53"/><circle cx="89.6" cy="100.4" r="0.59"/><circle cx="89.6" cy="111.1" r="0.53"/><circle cx="93.4" cy="103.9" r="0.53"/><circle cx="98.7" cy="186.7" r="0.69"/><circle cx="114.7" cy="345.0" r="0.63"/><circle cx="112.2" cy="298.6" r="0.52"/><circle cx="121.1" cy="334.9" r="0.71"/><circle cx="93.0" cy="132.3" r="0.33"/><circle cx="103.2" cy="179.8" r="0.64"/><circle cx="93.0" cy="130.6" r="0.67"/><circle cx="92.2" cy="126.8" r="0.53"/><circle cx="112.7" cy="325.5" r="0.53"/><circle cx="97.8" cy="171.7" r="0.32"/><circle cx="95.5" cy="136.6" r="0.61"/><circle cx="117.4" cy="319.2" r="0.38"/><circle cx="111.2" cy="290.9" r="0.59"/><circle cx="99.1" cy="182.1" r="0.69"/><circle cx="107.5" cy="232.1" r="0.35"/><circle cx="117.1" cy="344.2" r="0.58"/><circle cx="98.3" cy="190.9" r="0.75"/><circle cx="104.9" cy="237.8" r="0.46"/><circle cx="109.6" cy="285.7" r="0.63"/><circle cx="88.7" cy="102.4" r="0.67"/><circle cx="99.3" cy="154.9" r="0.56"/><circle cx="111.7" cy="259.9" r="0.44"/><circle cx="88.5" cy="90.5" r="0.58"/><circle cx="99.0" cy="200.7" r="0.53"/><circle cx="112.9" cy="319.3" r="0.59"/><circle cx="88.9" cy="95.7" r="0.30"/><circle cx="98.8" cy="180.9" r="0.40"/><circle cx="104.6" cy="239.4" r="0.57"/><circle cx="94.8" cy="142.3" r="0.36"/><circle cx="115.0" cy="329.8" r="0.41"/><circle cx="94.4" cy="128.2" r="0.69"/><circle cx="110.7" cy="290.2" r="0.48"/><circle cx="98.3" cy="157.6" r="0.55"/><circle cx="96.7" cy="179.7" r="0.59"/><circle cx="103.5" cy="203.6" r="0.41"/><circle cx="113.6" cy="321.3" r="0.32"/><circle cx="103.2" cy="226.1" r="0.33"/><circle cx="109.5" cy="289.4" r="0.31"/><circle cx="103.5" cy="231.0" r="0.39"/><circle cx="104.1" cy="245.7" r="0.53"/><circle cx="105.2" cy="254.2" r="0.44"/><circle cx="96.7" cy="166.9" r="0.32"/><circle cx="112.3" cy="317.7" r="0.30"/><circle cx="114.7" cy="306.2" r="0.64"/><circle cx="99.8" cy="209.1" r="0.40"/><circle cx="92.9" cy="117.0" r="0.40"/><circle cx="90.4" cy="99.9" r="0.61"/><circle cx="114.4" cy="306.4" r="0.62"/><circle cx="97.1" cy="158.1" r="0.65"/><circle cx="102.2" cy="224.0" r="0.42"/><circle cx="106.5" cy="254.4" r="0.70"/><circle cx="87.6" cy="93.9" r="0.42"/><circle cx="93.5" cy="150.4" r="0.64"/><circle cx="103.0" cy="173.7" r="0.70"/><circle cx="96.3" cy="174.1" r="0.58"/><circle cx="112.4" cy="267.4" r="0.60"/><circle cx="119.4" cy="340.6" r="0.61"/><circle cx="111.5" cy="309.5" r="0.50"/><circle cx="109.1" cy="275.5" r="0.40"/><circle cx="105.0" cy="249.4" r="0.34"/><circle cx="112.3" cy="323.2" r="0.35"/><circle cx="112.9" cy="327.8" r="0.46"/><circle cx="91.5" cy="126.3" r="0.61"/><circle cx="104.4" cy="252.3" r="0.61"/><circle cx="110.7" cy="278.6" r="0.46"/><circle cx="110.9" cy="299.3" r="0.67"/><circle cx="116.9" cy="318.2" r="0.71"/><circle cx="115.2" cy="331.7" r="0.35"/><circle cx="93.0" cy="142.7" r="0.68"/><circle cx="109.7" cy="297.9" r="0.59"/><circle cx="111.2" cy="301.2" r="0.34"/><circle cx="91.3" cy="115.1" r="0.64"/><circle cx="93.7" cy="142.5" r="0.31"/><circle cx="96.7" cy="155.7" r="0.43"/><circle cx="108.3" cy="273.2" r="0.73"/><circle cx="102.6" cy="219.0" r="0.68"/><circle cx="106.8" cy="248.3" r="0.50"/><circle cx="108.7" cy="287.9" r="0.46"/><circle cx="108.2" cy="270.4" r="0.69"/><circle cx="89.7" cy="113.3" r="0.67"/><circle cx="93.5" cy="133.6" r="0.64"/><circle cx="113.7" cy="340.3" r="0.30"/><circle cx="105.6" cy="215.7" r="0.38"/><circle cx="100.7" cy="216.6" r="0.46"/><circle cx="110.2" cy="302.9" r="0.43"/><circle cx="99.9" cy="145.0" r="0.61"/><circle cx="103.8" cy="217.6" r="0.34"/><circle cx="111.2" cy="291.7" r="0.61"/><circle cx="110.4" cy="291.5" r="0.48"/><circle cx="99.7" cy="191.0" r="0.70"/><circle cx="89.6" cy="112.1" r="0.39"/><circle cx="94.4" cy="157.4" r="0.71"/><circle cx="105.1" cy="218.3" r="0.41"/><circle cx="103.7" cy="208.0" r="0.54"/><circle cx="107.6" cy="283.1" r="0.46"/><circle cx="100.1" cy="173.6" r="0.37"/><circle cx="112.6" cy="305.8" r="0.38"/><circle cx="103.1" cy="202.3" r="0.65"/><circle cx="105.1" cy="238.3" r="0.70"/><circle cx="95.7" cy="150.9" r="0.39"/><circle cx="96.7" cy="167.2" r="0.37"/><circle cx="96.6" cy="129.9" r="0.41"/><circle cx="97.5" cy="173.6" r="0.45"/><circle cx="92.2" cy="138.5" r="0.74"/><circle cx="113.0" cy="276.6" r="0.35"/><circle cx="101.9" cy="188.4" r="0.74"/></g>
</svg>

<svg id="flow" width="1024" height="530" viewBox="0 0 1024 530">
<defs>
<linearGradient id="gbl" x1="0" y1="0.95" x2="1" y2="0.1"><stop offset="0" stop-color="#5299f2"/><stop offset="0.3" stop-color="#3c7ad2"/><stop offset="0.55" stop-color="#2a60b6"/><stop offset="0.8" stop-color="#174496"/><stop offset="1" stop-color="#09276c"/></linearGradient>
<linearGradient id="gtl" x1="0" y1="0.05" x2="1" y2="0.9"><stop offset="0" stop-color="#5299f2"/><stop offset="0.3" stop-color="#3c7ad2"/><stop offset="0.55" stop-color="#2a60b6"/><stop offset="0.8" stop-color="#174496"/><stop offset="1" stop-color="#09276c"/></linearGradient>
<filter id="sh" x="-20%" y="-20%" width="140%" height="140%"><feGaussianBlur stdDeviation="4"/></filter>
</defs>
<rect x="418.5" y="61.5" width="113.0" height="113.0" rx="8" fill="#031a36" opacity="0.75" filter="url(#sh)"/>
<rect x="564.5" y="61.5" width="113.0" height="113.0" rx="8" fill="#031a36" opacity="0.75" filter="url(#sh)"/>
<rect x="710.7" y="61.5" width="113.0" height="113.0" rx="8" fill="#031a36" opacity="0.75" filter="url(#sh)"/>
<rect x="859.1" y="61.5" width="113.0" height="113.0" rx="8" fill="#031a36" opacity="0.75" filter="url(#sh)"/>
<rect x="418.5" y="307.7" width="113.0" height="113.0" rx="8" fill="#031a36" opacity="0.75" filter="url(#sh)"/>
<rect x="564.5" y="307.7" width="113.0" height="113.0" rx="8" fill="#031a36" opacity="0.75" filter="url(#sh)"/>
<rect x="710.7" y="307.7" width="113.0" height="113.0" rx="8" fill="#031a36" opacity="0.75" filter="url(#sh)"/>
<rect x="859.1" y="307.7" width="113.0" height="113.0" rx="8" fill="#031a36" opacity="0.75" filter="url(#sh)"/>
<path d="M550.9,112.6 L559.7,118.0 L550.9,123.4 Z" fill="#40b3f5"/>
<path d="M412.7,118 V170.3 A10,10 0 0 0 422.7,180.3 H527.3 A10,10 0 0 0 537.3,170.3 V118" fill="none" stroke="#40b3f5" stroke-width="2.4" stroke-dasharray="6.35 6" stroke-dashoffset="6.35"/>
<path d="M412.7,118 V65.7 A10,10 0 0 1 422.7,55.7 H527.3 A10,10 0 0 1 537.3,65.7 V118 H552.7" fill="none" stroke="#40b3f5" stroke-width="2.4" stroke-linejoin="miter"/>
<path d="M697.1,112.6 L705.9,118.0 L697.1,123.4 Z" fill="#40b3f5"/>
<path d="M558.7,118 V65.7 A10,10 0 0 1 568.7,55.7 H673.3 A10,10 0 0 1 683.3,65.7 V118" fill="none" stroke="#40b3f5" stroke-width="2.4" stroke-dasharray="6.35 6" stroke-dashoffset="6.35"/>
<path d="M558.7,118 V170.3 A10,10 0 0 0 568.7,180.3 H673.3 A10,10 0 0 0 683.3,170.3 V118 H698.9000000000001" fill="none" stroke="#40b3f5" stroke-width="2.4" stroke-linejoin="miter"/>
<path d="M845.5,112.6 L854.3,118.0 L845.5,123.4 Z" fill="#40b3f5"/>
<path d="M704.9000000000001,118 V170.3 A10,10 0 0 0 714.9000000000001,180.3 H819.5 A10,10 0 0 0 829.5,170.3 V118" fill="none" stroke="#40b3f5" stroke-width="2.4" stroke-dasharray="6.35 6" stroke-dashoffset="6.35"/>
<path d="M704.9000000000001,118 V65.7 A10,10 0 0 1 714.9000000000001,55.7 H819.5 A10,10 0 0 1 829.5,65.7 V118 H847.3000000000001" fill="none" stroke="#40b3f5" stroke-width="2.4" stroke-linejoin="miter"/>
<path d="M853.3000000000001,118 V65.7 A10,10 0 0 1 863.3000000000001,55.7 H967.9 A10,10 0 0 1 977.9,65.7 V118" fill="none" stroke="#40b3f5" stroke-width="2.4" stroke-dasharray="6.35 6" stroke-dashoffset="6.35"/>
<path d="M853.3000000000001,118 V170.3 A10,10 0 0 0 863.3000000000001,180.3 H967.9 A10,10 0 0 0 977.9,170.3 V118" fill="none" stroke="#40b3f5" stroke-width="2.4" stroke-linejoin="miter"/>
<path d="M550.9,358.8 L559.7,364.2 L550.9,369.6 Z" fill="#40b3f5"/>
<path d="M412.7,364.2 V416.5 A10,10 0 0 0 422.7,426.5 H527.3 A10,10 0 0 0 537.3,416.5 V364.2" fill="none" stroke="#40b3f5" stroke-width="2.4" stroke-dasharray="6.35 6" stroke-dashoffset="6.35"/>
<path d="M412.7,364.2 V311.9 A10,10 0 0 1 422.7,301.9 H527.3 A10,10 0 0 1 537.3,311.9 V364.2 H552.7" fill="none" stroke="#40b3f5" stroke-width="2.4" stroke-linejoin="miter"/>
<path d="M697.1,358.8 L705.9,364.2 L697.1,369.6 Z" fill="#40b3f5"/>
<path d="M558.7,364.2 V311.9 A10,10 0 0 1 568.7,301.9 H673.3 A10,10 0 0 1 683.3,311.9 V364.2" fill="none" stroke="#40b3f5" stroke-width="2.4" stroke-dasharray="6.35 6" stroke-dashoffset="6.35"/>
<path d="M558.7,364.2 V416.5 A10,10 0 0 0 568.7,426.5 H673.3 A10,10 0 0 0 683.3,416.5 V364.2 H698.9000000000001" fill="none" stroke="#40b3f5" stroke-width="2.4" stroke-linejoin="miter"/>
<path d="M845.5,358.8 L854.3,364.2 L845.5,369.6 Z" fill="#40b3f5"/>
<path d="M704.9000000000001,364.2 V416.5 A10,10 0 0 0 714.9000000000001,426.5 H819.5 A10,10 0 0 0 829.5,416.5 V364.2" fill="none" stroke="#40b3f5" stroke-width="2.4" stroke-dasharray="6.35 6" stroke-dashoffset="6.35"/>
<path d="M704.9000000000001,364.2 V311.9 A10,10 0 0 1 714.9000000000001,301.9 H819.5 A10,10 0 0 1 829.5,311.9 V364.2 H847.3000000000001" fill="none" stroke="#40b3f5" stroke-width="2.4" stroke-linejoin="miter"/>
<path d="M853.3000000000001,364.2 V311.9 A10,10 0 0 1 863.3000000000001,301.9 H967.9 A10,10 0 0 1 977.9,311.9 V364.2" fill="none" stroke="#40b3f5" stroke-width="2.4" stroke-dasharray="6.35 6" stroke-dashoffset="6.35"/>
<path d="M853.3000000000001,364.2 V416.5 A10,10 0 0 0 863.3000000000001,426.5 H967.9 A10,10 0 0 0 977.9,416.5 V364.2" fill="none" stroke="#40b3f5" stroke-width="2.4" stroke-linejoin="miter"/>
<path d="M977.9,118 H994 V265.5 H393 V364.2 H404.7" fill="none" stroke="#40b3f5" stroke-width="2.4"/>
<path d="M402.9,358.8 L411.9,364.2 L402.9,369.6 Z" fill="#40b3f5"/>
<rect x="422.5" y="65.5" width="105.0" height="105.0" rx="4.5" fill="url(#gbl)" stroke="#fff" stroke-width="2"/>
<rect x="568.5" y="65.5" width="105.0" height="105.0" rx="4.5" fill="url(#gbl)" stroke="#fff" stroke-width="2"/>
<rect x="714.7" y="65.5" width="105.0" height="105.0" rx="4.5" fill="url(#gbl)" stroke="#fff" stroke-width="2"/>
<rect x="863.1" y="65.5" width="105.0" height="105.0" rx="4.5" fill="url(#gtl)" stroke="#fff" stroke-width="2"/>
<rect x="422.5" y="311.7" width="105.0" height="105.0" rx="4.5" fill="url(#gbl)" stroke="#fff" stroke-width="2"/>
<rect x="568.5" y="311.7" width="105.0" height="105.0" rx="4.5" fill="url(#gbl)" stroke="#fff" stroke-width="2"/>
<rect x="714.7" y="311.7" width="105.0" height="105.0" rx="4.5" fill="url(#gbl)" stroke="#fff" stroke-width="2"/>
<rect x="863.1" y="311.7" width="105.0" height="105.0" rx="4.5" fill="url(#gtl)" stroke="#fff" stroke-width="2"/>
<g transform="translate(445,88) scale(0.11321)" fill="none" stroke="#fff" stroke-width="13.69" stroke-linejoin="round" stroke-linecap="round">
<path d="M233.0,109.2 L233.0,64.0 L297.0,64.0 L297.0,109.2 A164,164 0 0 1 356.1,133.6 L388.0,101.7 L433.3,147.0 L401.4,178.9 A164,164 0 0 1 425.8,238.0 L471.0,238.0 L471.0,302.0 L425.8,302.0 A164,164 0 0 1 401.4,361.1 L433.3,393.0 L388.0,438.3 L356.1,406.4 A164,164 0 0 1 297.0,430.8 L297.0,476.0 L233.0,476.0 L233.0,430.8 A164,164 0 0 1 173.9,406.4 L142.0,438.3 L96.7,393.0 L128.6,361.1 A164,164 0 0 1 104.2,302.0 L59.0,302.0 L59.0,238.0 L104.2,238.0 A164,164 0 0 1 128.6,178.9 L96.7,147.0 L142.0,101.7 L173.9,133.6 A164,164 0 0 1 233.0,109.2 Z"/>
<rect x="188" y="200" width="154" height="142"/>
<rect x="225" y="233" width="80" height="76" fill="#2f63b8"/>
<circle cx="265" cy="152" r="19"/>
<circle cx="265" cy="388" r="19"/>
<circle cx="145" cy="270" r="19"/>
<circle cx="385" cy="270" r="19"/>
<path d="M265,171 V233 M265,369 V309 M164,270 H225 M366,270 H305"/>
</g>
<g transform="translate(591,88) scale(0.11321)" fill="none" stroke="#fff" stroke-width="12.81" stroke-linejoin="round" stroke-linecap="round">
<path d="M158,292 V93 H458 V462 H238"/>
<rect x="252" y="127" width="108" height="98"/>
<rect x="200" y="225" width="105" height="95"/><rect x="305" y="225" width="108" height="95"/>
<path d="M292,127 V195 H322 V127 M240,225 V290 H268 V225 M347,225 V290 H375 V225" stroke-width="9"/>
<path d="M205,181 H150 Q126,181 126,205 V232"/>
<path d="M110,232 H142 L126,256 Z" fill="#fff" stroke-width="4"/>
<path d="M262,426 H300 Q316,426 316,410 V372"/>
<path d="M300,372 H332 L316,348 Z" fill="#fff" stroke-width="4"/>
<path d="M362,356 H425 M362,386 H425 M362,416 H425"/>
<ellipse cx="152" cy="325" rx="80" ry="32"/>
<path d="M72,325 V455 A80,32 0 0 0 232,455 V325"/>
<path d="M72,368 A80,32 0 0 0 232,368 M72,412 A80,32 0 0 0 232,412"/>
</g>
<g transform="translate(737,88) scale(0.11321)" fill="none" stroke="#fff" stroke-width="13.69" stroke-linejoin="round" stroke-linecap="round">
<path d="M312.7,103.5 L396.3,151.5 M437.0,222.0 L437.0,313.0 M396.3,383.5 L312.7,431.5 M231.3,431.4 L148.7,383.6 M108.0,313.0 L108.0,222.0 M148.7,151.4 L231.3,103.6 M272,120 V416 M135,268 H410"/>
<circle cx="272" cy="80" r="31"/>
<circle cx="437" cy="175" r="31"/>
<circle cx="437" cy="360" r="31"/>
<circle cx="272" cy="455" r="31"/>
<circle cx="108" cy="360" r="31"/>
<circle cx="108" cy="175" r="31"/>
</g>
<g transform="translate(883,88) scale(0.11321)" fill="none" stroke="#fff" stroke-width="12.81" stroke-linejoin="round" stroke-linecap="round">
<path d="M268.0,55.0 L286.2,73.9 L312.1,69.3 L315.7,95.3 L339.3,106.8 L327.0,130.0 L339.3,153.2 L315.7,164.7 L312.1,190.7 L286.2,186.1 L268.0,205.0 L249.8,186.1 L223.9,190.7 L220.3,164.7 L196.7,153.2 L209.0,130.0 L196.7,106.8 L220.3,95.3 L223.9,69.3 L249.8,73.9 Z" stroke-width="11"/>
<circle cx="268" cy="130" r="34"/>
<path d="M268,204 V245 M342,130 H437 V165 M437,245 V278 H327 M268,310 V394 M100,394 V352 H437 V394"/>
<rect x="208" y="245" width="118" height="65"/>
<path d="M437,165 L478,205 L437,245 L396,205 Z"/>
<circle cx="100" cy="436" r="41"/>
<circle cx="268" cy="436" r="41"/>
<circle cx="437" cy="436" r="41"/>
</g>
<g transform="translate(445,335) scale(0.11321)" fill="none" stroke="#fff" stroke-width="13.69" stroke-linejoin="round" stroke-linecap="round">
<path d="M290,95 C290,35 375,35 382,88 C425,80 450,120 432,155 C470,170 475,225 445,245 C475,270 468,330 432,340 C445,380 415,420 380,410 C375,470 290,478 290,430 Z"/>
<path d="M350,155 C352,195 395,215 418,185 M345,120 C350,100 370,95 388,100"/>
<path d="M333,275 C338,245 370,235 392,248 M372,310 C378,290 410,290 420,305"/>
<path d="M332,322 C328,360 370,385 400,365"/>
<circle cx="163" cy="103" r="19"/><path d="M180,115 L210,142 Q220,150 235,150 H265"/>
<path d="M218,88 H265"/>
<circle cx="117" cy="205" r="19"/><path d="M137,205 H265"/>
<circle cx="98" cy="305" r="19"/><path d="M110,289 Q130,262 165,262 H265"/>
<circle cx="185" cy="325" r="19"/><path d="M205,325 H265"/>
<circle cx="130" cy="400" r="19"/><path d="M146,413 L170,432 Q182,440 200,440 H265"/>
<path d="M196,383 H265"/>
</g>
<g transform="translate(591,335) scale(0.11321)" fill="none" stroke="#fff" stroke-width="13.69" stroke-linejoin="round" stroke-linecap="round">
<path d="M250,360 H98 Q80,360 80,342 V93 Q80,75 98,75 H357 Q375,75 375,93 V190"/>
<path d="M80,316 H250"/>
<path d="M192,362 V415 M245,405 V415"/>
<path d="M250,415 H160 Q145,415 145,440 Q145,465 160,465 H300" />
<path d="M105,152 L155,102 M118,118 L130,106" stroke-width="9"/>
<path d="M330,425 H265 Q250,425 250,410 V205 Q250,190 265,190 H420 Q435,190 435,205 V262"/>
<path d="M250,222 H435 M250,405 H330"/>
<path d="M272,290 L320,242 M280,255 L292,243" stroke-width="9"/>
<rect x="330" y="262" width="140" height="203" rx="16"/>
<path d="M330,296 H470 M330,436 H470 M400,436 V465"/>
<path d="M355,368 L408,315 M362,330 L374,318" stroke-width="9"/>
</g>
<g transform="translate(737,335) scale(0.11321)" fill="none" stroke="#fff" stroke-width="13.69" stroke-linejoin="round" stroke-linecap="round">
<rect x="65" y="110" width="285" height="205" rx="10"/>
<path d="M65,148 H350"/>
<path d="M276,130 H280 M310,130 H314" stroke-width="14"/>
<path d="M350,155 H460 Q475,155 475,170 V265 M100,315 V385"/>
<rect x="65" y="385" width="455" height="45" rx="12"/>
<path d="M138,350 H142" stroke-width="14"/><path d="M170,350 H350"/>
<rect x="385" y="265" width="130" height="85" rx="10"/>
</g>
<g font-family="'Liberation Sans',sans-serif" font-weight="bold" fill="#fff">
<text x="747" y="360.5" font-size="7.2" font-weight="normal" textLength="26.2" lengthAdjust="spacingAndGlyphs">101010</text>
<text x="747" y="367.9" font-size="7.2" font-weight="normal" textLength="26.2" lengthAdjust="spacingAndGlyphs">101010</text>
<text x="782.2" y="372.9" font-size="7" textLength="11.6" lengthAdjust="spacingAndGlyphs">&lt;/&gt;</text>
</g>
<g transform="translate(883,335) scale(0.11321)" fill="none" stroke="#fff" stroke-width="13.69" stroke-linejoin="round" stroke-linecap="round">
<path d="M480,80 C410,78 330,90 262,165 C235,200 210,260 195,318 L240,365 C300,348 360,320 400,285 C465,225 482,150 480,80 Z"/>
<path d="M368,98 L462,172"/>
<circle cx="350" cy="203" r="33"/>
<path d="M250,178 C200,190 160,225 140,268 L200,282"/>
<path d="M388,300 C380,350 345,395 292,415 L272,355"/>
<path d="M148,345 L85,410 M183,383 L90,472 M215,410 L155,476"/>
</g>
</svg>
<h1 class="title t1">Steps to Create an</h1>
<h1 class="title t2">AI App</h1>
<div class="num" style="left:429.5px;top:70.8px">1.</div>
<div class="lbl" style="left:447.6px;top:192.7px;letter-spacing:0.67px">Problem</div>
<div class="lbl" style="left:430.6px;top:211.8px;letter-spacing:0.78px">Identification</div>
<div class="num" style="left:575.5px;top:70.8px">2.</div>
<div class="lbl" style="left:577.1px;top:192.7px;letter-spacing:0.66px">Preparation</div>
<div class="lbl" style="left:591.2px;top:211.8px;letter-spacing:0.54px">of Data</div>
<div class="num" style="left:721.7px;top:70.8px">3.</div>
<div class="lbl" style="left:722.9px;top:192.7px;letter-spacing:0.36px">Choosing an</div>
<div class="lbl" style="left:730.3px;top:211.8px;letter-spacing:0.99px">Algorithm</div>
<div class="num" style="left:870.1px;top:70.8px">4.</div>
<div class="lbl" style="left:871.8px;top:192.7px;letter-spacing:0.71px">Training the</div>
<div class="lbl" style="left:875.3px;top:211.8px;letter-spacing:0.79px">Algorithms</div>
<div class="num" style="left:429.5px;top:317.0px">5.</div>
<div class="lbl" style="left:412.7px;top:440.1px;letter-spacing:0.47px">Choosing the best</div>
<div class="lbl" style="left:420.6px;top:458.9px;letter-spacing:0.41px">Language for AI</div>
<div class="num" style="left:575.5px;top:317.0px">6.</div>
<div class="lbl" style="left:594.3px;top:440.1px;letter-spacing:0.88px">Platform</div>
<div class="lbl" style="left:592.9px;top:458.9px;letter-spacing:0.39px">Selection</div>
<div class="num" style="left:721.7px;top:317.0px">7.</div>
<div class="lbl" style="left:752.2px;top:440.1px;letter-spacing:0.20px">Final</div>
<div class="lbl" style="left:722.9px;top:458.9px;letter-spacing:0.73px">Development</div>
<div class="num" style="left:870.1px;top:317.0px">8.</div>
<div class="lbl" style="left:879.7px;top:440.1px;letter-spacing:0.40px">Deploy and</div>
<div class="lbl" style="left:890.5px;top:458.9px;letter-spacing:1.00px">Monitor</div>
<div class="brand">LeewayHertz</div>
</div>
</body>
</html>
